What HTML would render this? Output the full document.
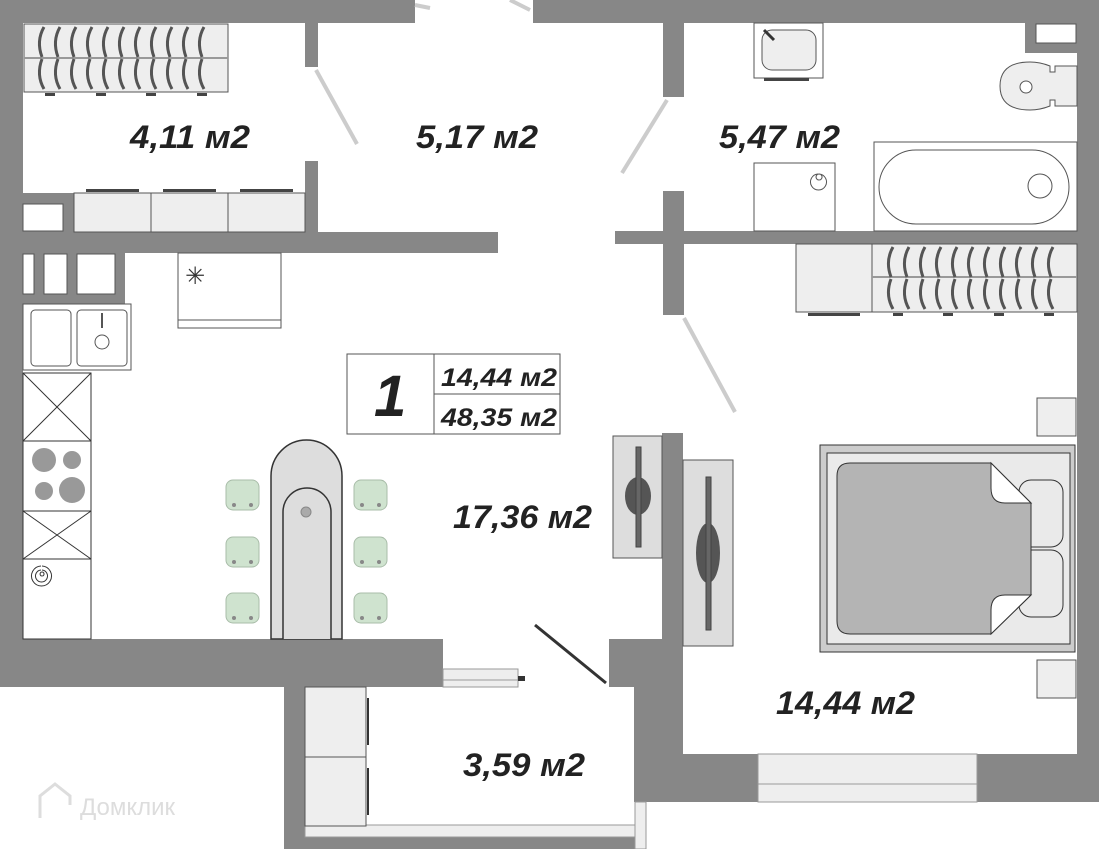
<!DOCTYPE html>
<html><head><meta charset="utf-8"><style>
html,body{margin:0;padding:0;background:#fff;}
svg{display:block}
.t{font-family:"Liberation Sans",sans-serif;font-weight:bold;font-style:italic;fill:#222;}
</style></head><body>
<svg width="1099" height="849" viewBox="0 0 1099 849" xmlns="http://www.w3.org/2000/svg">
<defs>
<g id="hang">
<path d="M0,2 q-8,14 -2,30" stroke="#555" stroke-width="3" fill="none"/>
<path d="M0,64 q-8,-14 -2,-30" stroke="#555" stroke-width="3" fill="none"/>
</g>
<g id="chair">
<rect x="0" y="0" width="33" height="30" rx="7" fill="#cfe3cf" stroke="#a8bca8"/>
<circle cx="8" cy="25" r="2" fill="#888"/><circle cx="25" cy="25" r="2" fill="#888"/>
</g>
</defs>
<g fill="#878787">
<rect x="0" y="0" width="415" height="23"/>
<rect x="533" y="0" width="566" height="23"/>
<rect x="0" y="0" width="23" height="687"/>
<rect x="1077" y="0" width="22" height="802"/>
<rect x="305" y="23" width="13" height="44"/>
<rect x="305" y="161" width="13" height="92"/>
<rect x="0" y="232" width="498" height="21"/>
<rect x="0" y="193" width="74" height="60"/>
<rect x="0" y="253" width="125" height="51"/>
<rect x="663" y="23" width="21" height="74"/>
<rect x="663" y="191" width="21" height="124"/>
<rect x="615" y="231" width="462" height="13"/>
<rect x="1025" y="23" width="52" height="30"/>
<rect x="662" y="433" width="21" height="254"/>
<rect x="609" y="639" width="74" height="48"/>
<rect x="634" y="687" width="49" height="115"/>
<rect x="634" y="754" width="465" height="48"/>
<rect x="0" y="639" width="443" height="48"/>
<rect x="284" y="687" width="21" height="162"/>
<rect x="305" y="837" width="330" height="12"/>
</g>
<g fill="#fff" stroke="#555" stroke-width="1">
<rect x="23" y="204" width="40" height="27"/>
<rect x="23" y="254" width="11" height="40"/>
<rect x="44" y="254" width="23" height="40"/>
<rect x="77" y="254" width="38" height="40"/>
<rect x="1036" y="24" width="40" height="19"/>
</g>
<rect x="758" y="754" width="219" height="48" fill="#eee" stroke="#999"/>
<line x1="758" y1="784" x2="977" y2="784" stroke="#999"/>
<rect x="305" y="825" width="330" height="12" fill="#eee" stroke="#999"/>
<rect x="635" y="802" width="11" height="47" fill="#eee" stroke="#999"/>
<rect x="443" y="669" width="75" height="18" fill="#eee" stroke="#999"/>
<line x1="443" y1="680" x2="518" y2="680" stroke="#999"/>
<rect x="518" y="676" width="7" height="5" fill="#333"/>
<g stroke="#ccc" stroke-width="4" fill="none">
<line x1="316" y1="70" x2="357" y2="144"/>
<line x1="667" y1="100" x2="622" y2="173"/>
<line x1="684" y1="318" x2="735" y2="412"/>
<line x1="415" y1="5" x2="430" y2="8"/>
<line x1="510" y1="0" x2="530" y2="10"/>
</g>
<line x1="535" y1="625" x2="606" y2="683" stroke="#333" stroke-width="3"/>
<rect x="24" y="24" width="204" height="68" fill="#eee" stroke="#555"/>
<line x1="24" y1="58" x2="228" y2="58" stroke="#999" stroke-width="2"/>
<g transform="translate(44,25)"><use href="#hang"/></g>
<g transform="translate(60,25)"><use href="#hang"/></g>
<g transform="translate(76,25)"><use href="#hang"/></g>
<g transform="translate(92,25)"><use href="#hang"/></g>
<g transform="translate(108,25)"><use href="#hang"/></g>
<g transform="translate(124,25)"><use href="#hang"/></g>
<g transform="translate(140,25)"><use href="#hang"/></g>
<g transform="translate(156,25)"><use href="#hang"/></g>
<g transform="translate(172,25)"><use href="#hang"/></g>
<g transform="translate(188,25)"><use href="#hang"/></g>
<g transform="translate(204,25)"><use href="#hang"/></g>
<g fill="#444"><rect x="45" y="93" width="10" height="3"/><rect x="96" y="93" width="10" height="3"/><rect x="146" y="93" width="10" height="3"/><rect x="197" y="93" width="10" height="3"/></g>
<g fill="#eee" stroke="#555"><rect x="74" y="193" width="77" height="39"/><rect x="151" y="193" width="77" height="39"/><rect x="228" y="193" width="77" height="39"/></g>
<g fill="#444"><rect x="86" y="189" width="53" height="3"/><rect x="163" y="189" width="53" height="3"/><rect x="240" y="189" width="53" height="3"/></g>
<rect x="178" y="253" width="103" height="75" fill="#fff" stroke="#555"/>
<line x1="178" y1="320" x2="281" y2="320" stroke="#555"/>
<text x="185" y="284" font-size="24" font-family="DejaVu Sans" fill="#333">✳</text>
<rect x="754" y="23" width="69" height="55" fill="#fff" stroke="#555"/>
<rect x="762" y="30" width="54" height="40" rx="10" fill="#eee" stroke="#555"/>
<line x1="764" y1="30" x2="774" y2="40" stroke="#333" stroke-width="3"/>
<rect x="764" y="78" width="45" height="3" fill="#444"/>
<path d="M1077,66 L1055,66 L1055,72 L1050,72 L1050,66 Q1040,62 1030,62 Q1000,62 1000,86 Q1000,110 1030,110 Q1040,110 1050,106 L1050,100 L1055,100 L1055,106 L1077,106 Z" fill="#eee" stroke="#555"/>
<circle cx="1026" cy="87" r="6" fill="#fff" stroke="#555"/>
<rect x="754" y="163" width="81" height="68" fill="#fff" stroke="#555"/>
<path d="M819,180 a3,3 0 1 1 0.1,0 M819,174 a8,8 0 1 1 -1,0" fill="none" stroke="#555"/>
<rect x="874" y="142" width="203" height="89" fill="#fff" stroke="#555"/>
<rect x="879" y="150" width="190" height="74" rx="37" fill="#fff" stroke="#555"/>
<circle cx="1040" cy="186" r="12" fill="#fff" stroke="#555"/>
<rect x="796" y="244" width="76" height="68" fill="#eee" stroke="#555"/>
<rect x="872" y="244" width="205" height="68" fill="#eee" stroke="#555"/>
<line x1="872" y1="277" x2="1077" y2="277" stroke="#999" stroke-width="2"/>
<g transform="translate(893,245)"><use href="#hang"/></g>
<g transform="translate(909,245)"><use href="#hang"/></g>
<g transform="translate(925,245)"><use href="#hang"/></g>
<g transform="translate(941,245)"><use href="#hang"/></g>
<g transform="translate(957,245)"><use href="#hang"/></g>
<g transform="translate(973,245)"><use href="#hang"/></g>
<g transform="translate(989,245)"><use href="#hang"/></g>
<g transform="translate(1005,245)"><use href="#hang"/></g>
<g transform="translate(1021,245)"><use href="#hang"/></g>
<g transform="translate(1037,245)"><use href="#hang"/></g>
<g transform="translate(1053,245)"><use href="#hang"/></g>
<g fill="#444"><rect x="808" y="313" width="52" height="3"/><rect x="893" y="313" width="10" height="3"/><rect x="943" y="313" width="10" height="3"/><rect x="994" y="313" width="10" height="3"/><rect x="1044" y="313" width="10" height="3"/></g>
<rect x="23" y="304" width="108" height="66" fill="#fff" stroke="#555"/>
<rect x="31" y="310" width="40" height="56" rx="4" fill="#fff" stroke="#555"/>
<rect x="77" y="310" width="50" height="56" rx="4" fill="#fff" stroke="#555"/>
<circle cx="102" cy="342" r="7" fill="#fff" stroke="#555"/>
<line x1="102" y1="313" x2="102" y2="328" stroke="#555" stroke-width="2"/>
<g fill="#fff" stroke="#333">
<rect x="23" y="373" width="68" height="68"/>
<rect x="23" y="441" width="68" height="70"/>
<rect x="23" y="511" width="68" height="48"/>
<rect x="23" y="559" width="68" height="80"/>
</g>
<g stroke="#333"><line x1="23" y1="373" x2="91" y2="441"/><line x1="91" y1="373" x2="23" y2="441"/><line x1="23" y1="511" x2="91" y2="559"/><line x1="91" y1="511" x2="23" y2="559"/></g>
<g fill="#999"><circle cx="44" cy="460" r="12"/><circle cx="72" cy="460" r="9"/><circle cx="44" cy="491" r="9"/><circle cx="72" cy="490" r="13"/></g>
<path d="M42,576 a2,2 0 1 1 0.1,0 M42,570 a6,6 0 1 1 -1,0 M42,566 a10,10 0 1 1 -1,0" fill="none" stroke="#333"/>
<path d="M271,639 L271,476 A35.5,36 0 0 1 342,476 L342,639 Z" fill="#ddd" stroke="#333" stroke-width="1.5"/>
<path d="M283,639 L283,512 A24,24 0 0 1 331,512 L331,639" fill="#ddd" stroke="#333" stroke-width="1.5"/>
<circle cx="306" cy="512" r="5" fill="#aaa" stroke="#888"/>
<use href="#chair" x="226" y="480"/><use href="#chair" x="226" y="537"/><use href="#chair" x="226" y="593"/>
<use href="#chair" x="354" y="480"/><use href="#chair" x="354" y="537"/><use href="#chair" x="354" y="593"/>
<rect x="347" y="354" width="213" height="80" fill="#fff" stroke="#555"/>
<line x1="434" y1="354" x2="434" y2="434" stroke="#555"/>
<line x1="434" y1="394" x2="560" y2="394" stroke="#555"/>
<text x="374" y="416" class="t" font-size="58">1</text>
<text x="441" y="386" class="t" font-size="25" font-weight="normal" textLength="116" lengthAdjust="spacingAndGlyphs">14,44 м2</text>
<text x="441" y="426" class="t" font-size="25" font-weight="normal" textLength="116" lengthAdjust="spacingAndGlyphs">48,35 м2</text>
<rect x="613" y="436" width="49" height="122" fill="#ddd" stroke="#555"/>
<ellipse cx="638" cy="496" rx="13" ry="19" fill="#555"/>
<rect x="636" y="447" width="5" height="100" fill="#666" stroke="#444"/>
<rect x="683" y="460" width="50" height="186" fill="#ddd" stroke="#555"/>
<ellipse cx="708" cy="553" rx="12" ry="30" fill="#555"/>
<rect x="706" y="477" width="5" height="153" fill="#666" stroke="#444"/>
<rect x="820" y="445" width="255" height="207" fill="#ccc" stroke="#333"/>
<rect x="827" y="453" width="243" height="191" fill="#eaeaea" stroke="#333"/>
<rect x="1019" y="480" width="44" height="67" rx="12" fill="#eaeaea" stroke="#333"/>
<rect x="1019" y="550" width="44" height="67" rx="12" fill="#eaeaea" stroke="#333"/>
<path d="M850,463 L991,463 L1031,503 L1031,595 L991,634 L850,634 Q837,634 837,621 L837,476 Q837,463 850,463 Z" fill="#b4b4b4" stroke="#333"/>
<path d="M991,463 L1031,503 L1005,503 Q991,503 991,488 Z" fill="#fff" stroke="#333"/>
<path d="M991,634 L1031,595 L1005,595 Q991,595 991,610 Z" fill="#fff" stroke="#333"/>
<rect x="1037" y="398" width="39" height="38" fill="#eee" stroke="#555"/>
<rect x="1037" y="660" width="39" height="38" fill="#eee" stroke="#555"/>
<rect x="305" y="687" width="61" height="70" fill="#eee" stroke="#555"/>
<rect x="305" y="757" width="61" height="69" fill="#eee" stroke="#555"/>
<line x1="368" y1="698" x2="368" y2="745" stroke="#333" stroke-width="2"/>
<line x1="368" y1="768" x2="368" y2="815" stroke="#333" stroke-width="2"/>
<text x="130" y="148" class="t" font-size="32" textLength="120" lengthAdjust="spacingAndGlyphs">4,11 м2</text>
<text x="416" y="148" class="t" font-size="32" textLength="122" lengthAdjust="spacingAndGlyphs">5,17 м2</text>
<text x="719" y="148" class="t" font-size="32" textLength="121" lengthAdjust="spacingAndGlyphs">5,47 м2</text>
<text x="453" y="528" class="t" font-size="32" textLength="139" lengthAdjust="spacingAndGlyphs">17,36 м2</text>
<text x="776" y="714" class="t" font-size="32" textLength="139" lengthAdjust="spacingAndGlyphs">14,44 м2</text>
<text x="463" y="776" class="t" font-size="32" textLength="122" lengthAdjust="spacingAndGlyphs">3,59 м2</text>
<text x="80" y="815" font-family="Liberation Sans,sans-serif" font-size="24" fill="#ddd">Домклик</text>
<path d="M40,818 L40,796 L55,784 L70,796 L70,805" fill="none" stroke="#ddd" stroke-width="3"/>
</svg>
</body></html>
